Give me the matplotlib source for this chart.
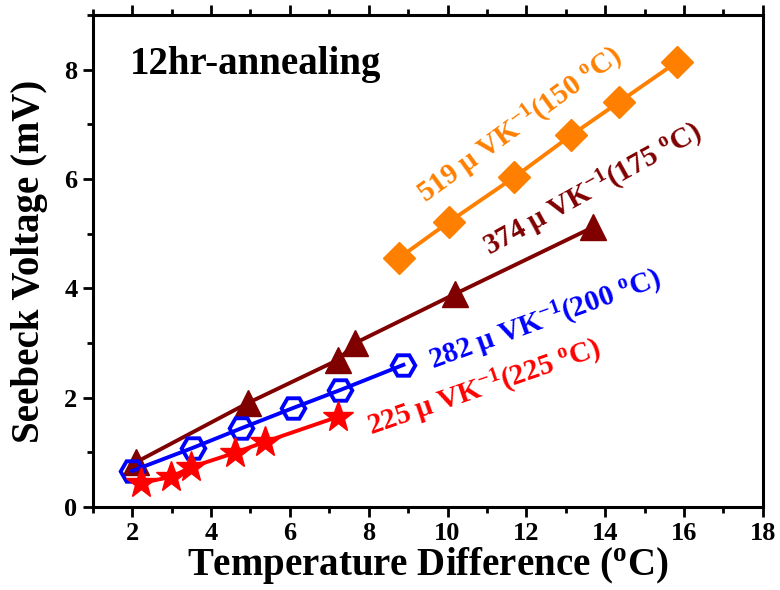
import matplotlib
matplotlib.use("Agg")
import matplotlib.pyplot as plt
from matplotlib.ticker import MultipleLocator

plt.rcParams['font.family'] = ['Liberation Serif', 'DejaVu Serif']
plt.rcParams['font.weight'] = 'bold'
plt.rcParams['axes.labelweight'] = 'bold'
plt.rcParams['mathtext.fontset'] = 'custom'
plt.rcParams['mathtext.rm'] = 'Liberation Serif:bold'
plt.rcParams['mathtext.it'] = 'Liberation Serif:bold'
plt.rcParams['mathtext.bf'] = 'Liberation Serif:bold'

# Annealed at 150 C
dT_150 = [8.76, 10.03, 11.69, 13.14, 14.34, 15.82]
V_150 = [4.55, 5.21, 6.03, 6.80, 7.40, 8.14]
# Annealed at 175 C
dT_175 = [2.10, 4.93, 7.22, 7.66, 10.20, 13.70]
V_175 = [0.82, 1.90, 2.69, 3.00, 3.90, 5.12]
# Annealed at 200 C
dT_200 = [2.00, 3.53, 4.77, 6.08, 7.28, 8.88]
V_200 = [0.66, 1.08, 1.44, 1.81, 2.14, 2.60]
# Annealed at 225 C
dT_225 = [2.22, 2.99, 3.50, 4.60, 5.36, 7.22]
V_225 = [0.44, 0.55, 0.73, 0.99, 1.19, 1.65]

labels = [r'519 μ VK$^{\mathrm{-1}}$(150 $^{\mathrm{o}}$C)',
          r'374 μ VK$^{\mathrm{-1}}$(175 $^{\mathrm{o}}$C)',
          r'282 μ VK$^{\mathrm{-1}}$(200 $^{\mathrm{o}}$C)',
          r'225 μ VK$^{\mathrm{-1}}$(225 $^{\mathrm{o}}$C)']

orange = '#FF8000'
maroon = '#800000'
blue = '#0000FF'
red = '#FF0000'

W, H = 780, 590
fig = plt.figure(figsize=(W / 100, H / 100), dpi=100)
ax = fig.add_axes([0.119, 0.1407, 0.859, 0.834])

ax.plot(dT_150, V_150, '-D', color=orange, lw=2.8, ms=16)
ax.plot(dT_175, V_175, '-^', color=maroon, lw=2.8, ms=19)
ax.plot(dT_200, V_200, '-H', color=blue, lw=2.8, ms=17, mfc='none', mew=2.8)
ax.plot(dT_225, V_225, '-*', color=red, lw=2.8, ms=23)


def fig_text(px, py, s, **kw):
    """Place text at a pixel position measured from the top-left corner."""
    fig.text(px / W, 1 - py / H, s, ha='center', va='center',
             rotation_mode='anchor', **kw)


fig_text(520, 125, labels[0], color=orange, fontsize=21, rotation=36)
fig_text(593, 190, labels[1], color=maroon, fontsize=21, rotation=29)
fig_text(545, 320, labels[2], color=blue, fontsize=21, rotation=20)
fig_text(484, 388, labels[3], color=red, fontsize=21, rotation=19)

ax.text(0.055, 0.9, '12hr-annealing', transform=ax.transAxes, fontsize=28,
        ha='left', va='center')

ax.set_xlim(1, 18)
ax.set_ylim(0, 9)
ax.xaxis.set_major_locator(MultipleLocator(2))
ax.xaxis.set_minor_locator(MultipleLocator(1))
ax.yaxis.set_major_locator(MultipleLocator(2))
ax.yaxis.set_minor_locator(MultipleLocator(1))

for s in ax.spines.values():
    s.set_linewidth(2.2)

ax.tick_params(axis='both', which='major', direction='out', length=7, width=2,
               labelsize=19, pad=4)
ax.tick_params(axis='both', which='minor', direction='out', length=4, width=2)
ax.tick_params(axis='x', which='both', top=True, labeltop=False)

ax.set_xlabel(r'Temperature Difference ($^{\mathrm{o}}$C)', fontsize=28, labelpad=0)
ax.set_ylabel('Seebeck Voltage (mV)', fontsize=28, labelpad=12)

fig.savefig('out.png', dpi=100)
